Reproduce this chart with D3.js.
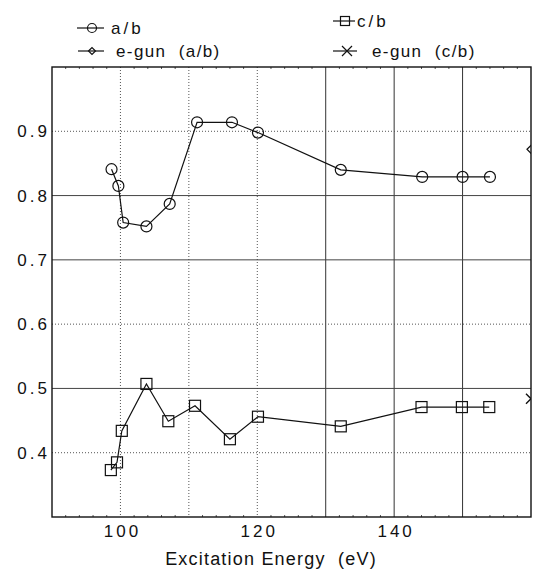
<!DOCTYPE html>
<html>
<head>
<meta charset="utf-8">
<script src="https://cdn.jsdelivr.net/npm/d3@7"></script>
<style>
  body { margin: 0; background: #fff; }
  svg { display: block; font-family: "Liberation Sans", Arial, Helvetica, sans-serif; }
</style>
</head>
<body>
<svg id="chart" width="533" height="569"></svg>
<script>
// values
const abEnergy = [98.7, 99.7, 100.4, 103.8, 107.2, 111.2, 116.3, 120.1, 132.2, 144.1, 150.0, 154.0];
const abRatio  = [0.841, 0.815, 0.758, 0.752, 0.787, 0.914, 0.914, 0.898, 0.840, 0.829, 0.829, 0.829];
const cbEnergy = [98.6, 99.5, 100.2, 103.8, 107.0, 110.9, 116.0, 120.1, 132.2, 144.0, 149.9, 153.9];
const cbRatio  = [0.373, 0.385, 0.434, 0.507, 0.449, 0.473, 0.421, 0.456, 0.441, 0.471, 0.471, 0.471];
const egunEnergy = [160];
const egunAB = [0.872];
const egunCB = [0.484];

const xTicks = [100, 120, 140];
const xGrid = [100, 110, 120, 130, 140, 150];
const xGridSolid = [130, 140, 150];
const yTicks = [0.4, 0.5, 0.6, 0.7, 0.8, 0.9];
const yGridSolid = [0.5, 0.7, 0.8];

const legendNames = ["a/b", "c/b", "e-gun  (a/b)", "e-gun  (c/b)"];
const xTitle = "Excitation Energy  (eV)";

const margin = {top: 67, right: 2, bottom: 52, left: 52},
	width = 533,
	height = 569;

const svg = d3.select("#chart");

const x = d3.scaleLinear()
	.domain([90, 160])
	.range([margin.left, width - margin.right]);

const y = d3.scaleLinear()
	.domain([0.3, 1.0])
	.range([height - margin.bottom, margin.top]);

svg.append("clipPath")
	.attr("id", "plotClip")
	.append("rect")
		.attr("x", x(90))
		.attr("y", y(1.0))
		.attr("width", x(160) - x(90))
		.attr("height", y(0.3) - y(1.0));

// grid
const grid = svg.append("g").attr("class", "grid");

grid.selectAll(".vgrid")
	.data(xGrid)
	.enter()
	.append("line")
		.attr("x1", d => x(d))
		.attr("x2", d => x(d))
		.attr("y1", y(1.0))
		.attr("y2", y(0.3))
		.style("stroke", d => xGridSolid.includes(d) ? "#333" : "#555")
		.style("stroke-width", 1)
		.style("stroke-dasharray", d => xGridSolid.includes(d) ? null : "1,2");

grid.selectAll(".hgrid")
	.data(yTicks)
	.enter()
	.append("line")
		.attr("x1", x(90))
		.attr("x2", x(160))
		.attr("y1", d => y(d))
		.attr("y2", d => y(d))
		.style("stroke", d => yGridSolid.includes(d) ? "#444" : "#555")
		.style("stroke-width", 1)
		.style("stroke-dasharray", d => yGridSolid.includes(d) ? null : "1,2");

// minor ticks on top and bottom edges
const minor = d3.range(92, 160, 2).filter(d => d % 10 != 0);
grid.selectAll(".minTop")
	.data(minor)
	.enter()
	.append("line")
		.attr("x1", d => x(d)).attr("x2", d => x(d))
		.attr("y1", y(1.0)).attr("y2", y(1.0) + 2)
		.style("stroke", "#555");
grid.selectAll(".minBot")
	.data(minor)
	.enter()
	.append("line")
		.attr("x1", d => x(d)).attr("x2", d => x(d))
		.attr("y1", y(0.3)).attr("y2", y(0.3) - 2)
		.style("stroke", "#555");

// frame
svg.append("rect")
	.attr("x", x(90))
	.attr("y", y(1.0))
	.attr("width", x(160) - x(90))
	.attr("height", y(0.3) - y(1.0))
	.style("fill", "none")
	.style("stroke", "#111")
	.style("stroke-width", 1.4);

// axes labels
const xAxis = svg.append("g")
	.attr("transform", "translate(0," + y(0.3) + ")")
	.call(d3.axisBottom(x).tickValues(xTicks).tickSize(0).tickPadding(8).tickFormat(d3.format("d")));
xAxis.select(".domain").remove();
xAxis.selectAll("text")
	.style("font-size", "17px")
	.style("letter-spacing", "3px")
	.attr("dx", "1.5px")
	.style("fill", "#111");

const yAxis = svg.append("g")
	.attr("transform", "translate(" + x(90) + ",0)")
	.call(d3.axisLeft(y).tickValues(yTicks).tickSize(0).tickPadding(2).tickFormat(d3.format(".1f")));
yAxis.select(".domain").remove();
yAxis.selectAll("text")
	.style("font-size", "17px")
	.style("letter-spacing", "3px")
	.style("fill", "#111");

svg.append("text")
	.attr("x", 271)
	.attr("y", 565)
	.attr("text-anchor", "middle")
	.style("font-size", "18px")
	.style("letter-spacing", "1.2px")
	.style("white-space", "pre")
	.style("fill", "#111")
	.text(xTitle);

// series
const plot = svg.append("g").attr("clip-path", "url(#plotClip)");

const line = d3.line()
	.x(d => x(d[0]))
	.y(d => y(d[1]));

const abData = abEnergy.map((e, i) => [e, abRatio[i]]);
const cbData = cbEnergy.map((e, i) => [e, cbRatio[i]]);

plot.append("path")
	.attr("d", line(abData))
	.style("fill", "none")
	.style("stroke", "#111")
	.style("stroke-width", 1.2);

plot.append("path")
	.attr("d", line(cbData))
	.style("fill", "none")
	.style("stroke", "#111")
	.style("stroke-width", 1.2);

plot.selectAll(".abCircle")
	.data(abData)
	.enter()
	.append("circle")
		.attr("cx", d => x(d[0]))
		.attr("cy", d => y(d[1]))
		.attr("r", 5.5)
		.style("fill", "none")
		.style("stroke", "#111")
		.style("stroke-width", 1.2);

plot.selectAll(".cbSquare")
	.data(cbData)
	.enter()
	.append("rect")
		.attr("x", d => x(d[0]) - 5.5)
		.attr("y", d => y(d[1]) - 5.5)
		.attr("width", 11)
		.attr("height", 11)
		.style("fill", "none")
		.style("stroke", "#111")
		.style("stroke-width", 1.2);

plot.selectAll(".egunAB")
	.data(egunEnergy.map((e, i) => [e, egunAB[i]]))
	.enter()
	.append("path")
		.attr("transform", d => "translate(" + x(d[0]) + "," + y(d[1]) + ")")
		.attr("d", "M-4,0L0,-4L4,0L0,4Z")
		.style("fill", "none")
		.style("stroke", "#111")
		.style("stroke-width", 1.2);

plot.selectAll(".egunCB")
	.data(egunEnergy.map((e, i) => [e, egunCB[i]]))
	.enter()
	.append("path")
		.attr("transform", d => "translate(" + x(d[0]) + "," + y(d[1]) + ")")
		.attr("d", "M-5,-5L5,5M-5,5L5,-5")
		.style("fill", "none")
		.style("stroke", "#111")
		.style("stroke-width", 1.4);

// legend
const legendPos = [
	{lx: 77, ly: 28, mx: 92, tx: 111},
	{lx: 333, ly: 21, mx: 345, tx: 357},
	{lx: 78, ly: 51, mx: 92, tx: 116},
	{lx: 333, ly: 51, mx: 347, tx: 372}
];
const legendLen = [27, 22, 26, 24];

const legend = svg.append("g").attr("class", "legend");

legendNames.forEach(function(name, i) {
	const p = legendPos[i];
	const g = legend.append("g");
	g.append("line")
		.attr("x1", p.lx).attr("x2", p.lx + legendLen[i])
		.attr("y1", p.ly).attr("y2", p.ly)
		.style("stroke", "#111")
		.style("stroke-width", 1.2);
	let marker;
	if (i == 0) {
		marker = g.append("circle").attr("cx", p.mx).attr("cy", p.ly).attr("r", 4.5);
	} else if (i == 1) {
		marker = g.append("rect").attr("x", p.mx - 4.5).attr("y", p.ly - 4.5).attr("width", 9).attr("height", 9);
	} else if (i == 2) {
		marker = g.append("path").attr("d", "M" + (p.mx - 3.5) + "," + p.ly + "l3.5,-3.5l3.5,3.5l-3.5,3.5z");
	} else {
		marker = g.append("path").attr("d", "M" + (p.mx - 5) + "," + (p.ly - 5) + "l10,10m-10,0l10,-10");
	}
	marker.style("fill", "none").style("stroke", "#111").style("stroke-width", 1.2);
	g.append("text")
		.attr("x", p.tx)
		.attr("y", p.ly + 6)
		.style("font-size", "17px")
		.style("letter-spacing", i < 2 ? "3px" : "1.4px")
		.style("white-space", "pre")
		.style("fill", "#111")
		.text(name);
});
</script>
</body>
</html>
